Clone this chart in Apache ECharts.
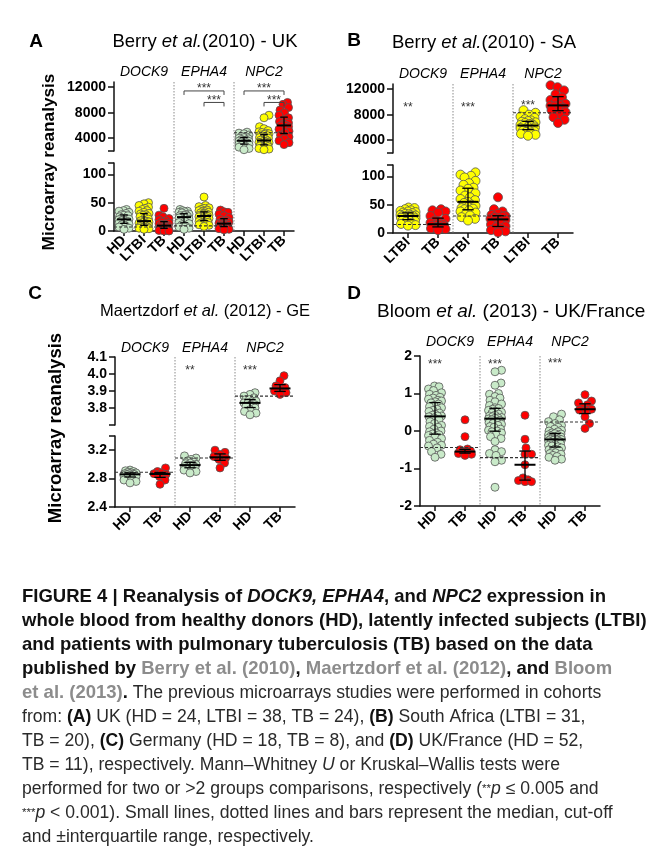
<!DOCTYPE html>
<html><head><meta charset="utf-8">
<script src="https://cdn.jsdelivr.net/npm/echarts@6/dist/echarts.min.js"></script>
<style>html,body{margin:0;padding:0;background:#fff}#c{width:653px;height:862px}</style>
</head><body><div id="c"></div>
<script>
// ---------------- DATA ----------------
const GENES = ['DOCK9', 'EPHA4', 'NPC2'];
const catsA = ['HD', 'LTBI', 'TB', 'HD', 'LTBI', 'TB', 'HD', 'LTBI', 'TB'];
const catsB = ['LTBI', 'TB', 'LTBI', 'TB', 'LTBI', 'TB'];
const catsC = ['HD', 'TB', 'HD', 'TB', 'HD', 'TB'];
const catsD = ['HD', 'TB', 'HD', 'TB', 'HD', 'TB'];

// Panel A: Berry et al. (2010) - UK
const A_DOCK9_HD = [38, 36, 35, 33, 31, 29, 28, 27, 25, 23, 22, 21, 20, 19, 18, 17, 15, 14, 12, 11, 9, 7, 5, 3];
const A_DOCK9_LTBI = [50, 48, 45, 42, 40, 38, 36, 35, 33, 31, 30, 29, 28, 26, 25, 23, 21, 19, 18, 17, 17, 16, 15, 14, 13, 12, 11, 10, 10, 9, 8, 7, 7, 6, 5, 5, 4, 3];
const A_DOCK9_TB = [40, 28, 25, 22, 20, 18, 16, 14, 13, 12, 11, 10, 9, 8, 8, 7, 6, 5, 4, 3, 2, 1, 0, 0];
const A_EPHA4_HD = [38, 36, 35, 34, 33, 32, 30, 29, 28, 27, 26, 25, 24, 23, 21, 19, 17, 15, 13, 11, 9, 7, 5, 3];
const A_EPHA4_LTBI = [60, 45, 43, 41, 40, 38, 37, 36, 35, 34, 33, 32, 31, 30, 29, 28, 28, 27, 27, 26, 26, 25, 24, 23, 22, 21, 20, 19, 18, 17, 16, 15, 14, 13, 12, 11, 10, 8];
const A_EPHA4_TB = [37, 34, 33, 30, 27, 24, 21, 19, 17, 16, 14, 13, 13, 12, 11, 10, 9, 8, 7, 6, 5, 4, 3, 2];
const A_NPC2_HD = [4950, 4800, 4700, 4500, 4300, 4200, 4100, 4000, 3900, 3800, 3700, 3650, 3550, 3500, 3400, 3300, 3200, 3100, 3000, 2900, 2750, 2600, 2400, 2200];
const A_NPC2_LTBI = [7600, 7200, 5800, 5500, 5200, 5000, 4900, 4800, 4700, 4600, 4500, 4400, 4300, 4200, 4100, 4000, 3900, 3800, 3700, 3600, 3500, 3450, 3400, 3350, 3300, 3200, 3100, 3000, 2950, 2900, 2800, 2700, 2600, 2500, 2450, 2400, 2300, 2200];
const A_NPC2_TB = [9600, 9300, 8800, 8400, 8000, 7600, 7200, 6900, 6600, 6400, 6200, 6050, 5950, 5800, 5600, 5400, 5100, 4800, 4500, 4200, 3900, 3600, 3300, 3000];
const CUT_A = [7, 9, 4850];

// Panel B: Berry et al. (2010) - SA
const B_DOCK9_LTBI = [45, 44, 42, 40, 39, 38, 37, 36, 35, 34, 33, 32, 31, 31, 30, 30, 30, 29, 28, 27, 26, 25, 24, 23, 22, 21, 20, 18, 16, 14, 13];
const B_DOCK9_TB = [42, 40, 38, 36, 30, 25, 22, 20, 18, 16, 15, 14, 13, 12, 11, 10, 9, 8, 7, 5];
const B_EPHA4_LTBI = [107, 103, 101, 98, 92, 88, 85, 80, 78, 75, 70, 66, 63, 60, 58, 55, 53, 50, 48, 46, 44, 43, 42, 40, 38, 36, 33, 31, 28, 25, 22];
const B_EPHA4_TB = [63, 42, 38, 34, 32, 30, 29, 28, 26, 25, 23, 21, 18, 15, 12, 10, 8, 5, 3, 1];
const B_NPC2_LTBI = [8700, 8300, 8000, 7700, 7500, 7300, 7100, 7000, 6900, 6800, 6700, 6600, 6500, 6400, 6350, 6300, 6250, 6200, 6100, 6000, 5900, 5800, 5700, 5600, 5500, 5400, 5300, 5200, 5000, 4850, 4700];
const B_NPC2_TB = [12900, 12600, 12300, 11800, 11200, 10700, 10300, 10000, 9700, 9500, 9400, 9300, 9100, 8900, 8700, 8400, 8000, 7600, 7200, 6700];
const CUT_B = [15, 30, 8300];

// Panel C: Maertzdorf et al. (2012) - GE
const C_DOCK9_HD = [2.92, 2.91, 2.90, 2.89, 2.88, 2.88, 2.87, 2.87, 2.86, 2.86, 2.85, 2.84, 2.83, 2.82, 2.80, 2.78, 2.76, 2.74];
const C_DOCK9_TB = [2.95, 2.90, 2.88, 2.87, 2.86, 2.83, 2.78, 2.72];
const C_EPHA4_HD = [3.12, 3.09, 3.07, 3.05, 3.03, 3.02, 3.01, 3.00, 2.99, 2.99, 2.98, 2.97, 2.96, 2.95, 2.93, 2.92, 2.90, 2.88];
const C_EPHA4_TB = [3.20, 3.17, 3.14, 3.11, 3.09, 3.07, 3.02, 2.95];
const C_NPC2_HD = [3.89, 3.88, 3.87, 3.86, 3.85, 3.85, 3.84, 3.84, 3.83, 3.83, 3.82, 3.82, 3.81, 3.80, 3.79, 3.78, 3.77, 3.76];
const C_NPC2_TB = [3.99, 3.96, 3.93, 3.92, 3.91, 3.90, 3.89, 3.88];
const CUT_C = [2.89, 3.09, 3.87];

// Panel D: Bloom et al. (2013) - UK/France
const D_DOCK9_HD = [1.2, 1.18, 1.12, 1.08, 1.02, 0.98, 0.95, 0.9, 0.88, 0.85, 0.82, 0.8, 0.78, 0.75, 0.72, 0.68, 0.65, 0.62, 0.58, 0.55, 0.52, 0.48, 0.45, 0.42, 0.4, 0.4, 0.38, 0.35, 0.3, 0.25, 0.2, 0.15, 0.12, 0.1, 0.05, 0.0, -0.02, -0.05, -0.08, -0.1, -0.12, -0.15, -0.2, -0.25, -0.3, -0.35, -0.38, -0.4, -0.45, -0.55, -0.62, -0.7];
const D_DOCK9_TB = [0.3, -0.15, -0.48, -0.5, -0.53, -0.55, -0.57, -0.58, -0.6, -0.62, -0.65];
const D_EPHA4_HD = [1.62, 1.58, 1.28, 1.22, 1.0, 0.98, 0.92, 0.88, 0.82, 0.78, 0.72, 0.68, 0.62, 0.6, 0.58, 0.55, 0.52, 0.5, 0.48, 0.45, 0.42, 0.4, 0.38, 0.36, 0.35, 0.34, 0.32, 0.3, 0.28, 0.25, 0.22, 0.2, 0.18, 0.15, 0.12, 0.1, 0.05, 0.02, 0.0, -0.02, -0.05, -0.1, -0.15, -0.2, -0.28, -0.5, -0.55, -0.6, -0.65, -0.78, -0.82, -1.5];
const D_EPHA4_TB = [0.42, -0.22, -0.45, -0.62, -0.62, -0.9, -1.25, -1.3, -1.32, -1.35, -1.35];
const D_NPC2_HD = [0.45, 0.38, 0.3, 0.25, 0.2, 0.15, 0.12, 0.1, 0.05, 0.02, 0.0, -0.02, -0.05, -0.07, -0.08, -0.1, -0.12, -0.13, -0.15, -0.16, -0.18, -0.19, -0.2, -0.21, -0.22, -0.22, -0.23, -0.24, -0.25, -0.26, -0.28, -0.3, -0.31, -0.32, -0.34, -0.36, -0.38, -0.4, -0.42, -0.45, -0.48, -0.5, -0.52, -0.55, -0.58, -0.6, -0.62, -0.65, -0.68, -0.7, -0.75, -0.78];
const D_NPC2_TB = [0.97, 0.8, 0.75, 0.7, 0.62, 0.58, 0.56, 0.55, 0.38, 0.2, 0.07];
const CUT_D = [-0.44, -0.71, 0.24];

// tick labels
const TICKS_AB_TOP = [4000, 8000, 12000];
const TICKS_AB_BOT = [0, 50, 100];
const TICKS_C_TOP = [3.8, 3.9, 4.0, 4.1];
const TICKS_C_BOT = [2.4, 2.8, 3.2];
const TICKS_D = [-2, -1, 0, 1, 2];

// significance: [fromCat, toCat, value, label]
const SIG_A = [[3, 5, 11400, '***'], [4, 5, 9600, '***'], [6, 8, 11400, '***'], [7, 8, 9600, '***']];
const SIG_B = [[0, 0, 9400, '**'], [2, 2, 9400, '***'], [4, 4, 9700, '***']];
const SIG_C = [[2, 2, 4.03, '**'], [4, 4, 4.03, '***']];
const SIG_D = [[0, 0, 1.82, '***'], [2, 2, 1.82, '***'], [4, 4, 1.84, '***']];

// ---------------- LAYOUT / HELPERS ----------------
const FONT = 'Liberation Sans, Arial, Helvetica, sans-serif';
const COLORS = { HD: '#c9eac9', LTBI: '#ffff00', TB: '#ff0000' };
const AXC = '#111';

function quant(s, p) { const pos = (s.length - 1) * p; const lo = Math.floor(pos), hi = Math.ceil(pos); return s[lo] + (s[hi] - s[lo]) * (pos - lo); }
function stats(v) { const s = v.slice().sort((a, b) => a - b); return { med: quant(s, 0.5), q1: quant(s, 0.25), q3: quant(s, 0.75) }; }
function swarm(vals, pxY, pxCat, diam, maxHW) {
  const idx = vals.map((v, i) => i).sort((a, b) => vals[a] - vals[b]);
  const placed = [], out = new Array(vals.length).fill(0), thr = diam * 0.8;
  for (const i of idx) {
    const y = vals[i] * pxY;
    let best = 0, bestD = -1, chosen = null;
    for (let k = 0; ; k++) {
      const x = (k % 2 === 1 ? 1 : -1) * Math.ceil(k / 2) * 0.5;
      if (Math.abs(x) > maxHW) break;
      let dmin = Infinity;
      for (const p of placed) { const dy = p[1] - y; if (Math.abs(dy) >= thr) continue; dmin = Math.min(dmin, Math.hypot(p[0] - x, dy)); }
      if (dmin >= thr) { chosen = x; break; }
      if (dmin > bestD + 0.3) { bestD = dmin; best = x; }
    }
    const x = chosen !== null ? chosen : best;
    placed.push([x, y]); out[i] = x / pxCat;
  }
  return out;
}

const panels = [
  { cats: catsA, groups: [[A_DOCK9_HD, A_DOCK9_LTBI, A_DOCK9_TB], [A_EPHA4_HD, A_EPHA4_LTBI, A_EPHA4_TB], [A_NPC2_HD, A_NPC2_LTBI, A_NPC2_TB]],
    cut: CUT_A, sig: SIG_A, left: 114, width: 180, size: 8, maxHW: 5, geneMargin: 3, fmt: v => String(v),
    segs: [{ top: 82, height: 69, min: 2000, max: 12800, ticks: TICKS_AB_TOP, caps: [2000] },
           { top: 163, height: 68, min: 0, max: 120, ticks: TICKS_AB_BOT, caps: [120] }] },
  { cats: catsB, groups: [[B_DOCK9_LTBI, B_DOCK9_TB], [B_EPHA4_LTBI, B_EPHA4_TB], [B_NPC2_LTBI, B_NPC2_TB]],
    cut: CUT_B, sig: SIG_B, left: 393, width: 180, size: 9, maxHW: 7.5, geneMargin: 3, fmt: v => String(v),
    segs: [{ top: 84, height: 69, min: 2000, max: 12800, ticks: TICKS_AB_TOP, caps: [2000] },
           { top: 165, height: 68, min: 0, max: 120, ticks: TICKS_AB_BOT, caps: [120] }] },
  { cats: catsC, groups: [[C_DOCK9_HD, C_DOCK9_TB], [C_EPHA4_HD, C_EPHA4_TB], [C_NPC2_HD, C_NPC2_TB]],
    cut: CUT_C, sig: SIG_C, left: 115, width: 180, size: 8, maxHW: 6, geneMargin: 2, fmt: v => v.toFixed(1),
    segs: [{ top: 357, height: 68, min: 3.7, max: 4.1, ticks: TICKS_C_TOP, caps: [3.7] },
           { top: 436, height: 71, min: 2.4, max: 3.4, ticks: TICKS_C_BOT, caps: [3.4] }] },
  { cats: catsD, groups: [[D_DOCK9_HD, D_DOCK9_TB], [D_EPHA4_HD, D_EPHA4_TB], [D_NPC2_HD, D_NPC2_TB]],
    cut: CUT_D, sig: SIG_D, left: 420, width: 180, size: 8, maxHW: 6.5, geneMargin: 7, fmt: v => String(v),
    segs: [{ top: 356, height: 150, min: -2, max: 2, ticks: TICKS_D, caps: [] }] }
];

const grids = [], xAxes = [], yAxes = [], series = [];
const lineW = 1.5;

panels.forEach(P => {
  const n = P.cats.length, nPer = n / 3, catIdx = P.cats.map((c, i) => i);
  const segs = P.segs.map((S, si) => {
    const bottom = si === P.segs.length - 1;
    const gi = grids.length;
    grids.push({ left: P.left, top: S.top, width: P.width, height: S.height, containLabel: false, outerBoundsMode: 'none' });
    const xi = xAxes.length;
    xAxes.push({ type: 'value', gridIndex: gi, min: -0.5, max: n - 0.5, position: 'bottom',
      axisLine: { show: bottom, onZero: false, lineStyle: { color: AXC, width: lineW } },
      axisTick: { show: bottom, customValues: catIdx, length: 5, lineStyle: { color: AXC, width: lineW } },
      axisLabel: { show: bottom, customValues: catIdx, formatter: v => P.cats[Math.round(v)], rotate: 45, margin: 7,
        color: '#000', fontWeight: 'bold', fontSize: 14, fontFamily: FONT },
      splitLine: { show: false } });
    const yi = yAxes.length;
    yAxes.push({ type: 'value', gridIndex: gi, min: S.min, max: S.max,
      axisLine: { show: true, onZero: false, lineStyle: { color: AXC, width: lineW } },
      axisTick: { show: true, customValues: S.ticks.concat(S.caps), length: 6, lineStyle: { color: AXC, width: lineW } },
      axisLabel: { customValues: S.ticks, formatter: P.fmt, margin: 8, color: '#000', fontWeight: 'bold', fontSize: 14, fontFamily: FONT },
      splitLine: { show: false } });
    return { gi, xi, yi, S, statData: [], cutData: [] };
  });
  const top = segs[0], bot = segs[segs.length - 1];
  // gene labels axis (top)
  const geneCenters = [0, 1, 2].map(g => g * nPer + (nPer - 1) / 2);
  xAxes.push({ type: 'value', gridIndex: top.gi, position: 'top', min: -0.5, max: n - 0.5,
    axisLine: { show: false, onZero: false }, axisTick: { show: false }, splitLine: { show: false },
    axisLabel: { customValues: geneCenters, formatter: v => GENES[Math.round((v - (nPer - 1) / 2) / nPer)],
      fontStyle: 'italic', fontSize: 14, color: '#000', margin: P.geneMargin, fontFamily: FONT } });

  // separators
  series.push({ type: 'custom', xAxisIndex: bot.xi, yAxisIndex: bot.yi, clip: false, z: 1, silent: true,
    data: [[nPer - 0.5, bot.S.min], [2 * nPer - 0.5, bot.S.min]],
    renderItem: (params, api) => {
      const p = api.coord([api.value(0), api.value(1)]);
      return { type: 'line', shape: { x1: p[0], y1: top.S.top, x2: p[0], y2: p[1] },
        style: { stroke: '#8a8a8a', lineWidth: 1, lineDash: [1.5, 1.5] } };
    } });

  // dots
  P.groups.forEach((row, g) => row.forEach((vals, k) => {
    const ci = g * nPer + k;
    const st = stats(vals);
    const seg = segs.find(o => st.med >= o.S.min && st.med <= o.S.max);
    const S = seg.S;
    const jit = swarm(vals, S.height / (S.max - S.min), P.width / n, P.size, P.maxHW);
    series.push({ type: 'scatter', xAxisIndex: seg.xi, yAxisIndex: seg.yi, symbolSize: P.size, z: 3, silent: true,
      itemStyle: { color: COLORS[P.cats[ci]], borderColor: '#555', borderWidth: 0.8, opacity: 1 },
      data: vals.map((v, i) => [ci + jit[i], v]) });
    seg.statData.push([ci, st.med, st.q1, st.q3]);
  }));
  P.cut.forEach((c, g) => {
    const seg = segs.find(o => c >= o.S.min && c <= o.S.max);
    seg.cutData.push([g * nPer - 0.5, (g + 1) * nPer - 0.5, c]);
  });

  segs.forEach(seg => {
    series.push({ type: 'custom', xAxisIndex: seg.xi, yAxisIndex: seg.yi, z: 5, silent: true, clip: false,
      encode: { x: 0, y: 2 }, data: seg.cutData,
      renderItem: (params, api) => {
        const a = api.coord([api.value(0), api.value(2)]), b = api.coord([api.value(1), api.value(2)]);
        return { type: 'line', shape: { x1: a[0], y1: a[1], x2: b[0], y2: b[1] },
          style: { stroke: '#333', lineWidth: 1.1, lineDash: [3, 2] } };
      } });
    series.push({ type: 'custom', xAxisIndex: seg.xi, yAxisIndex: seg.yi, z: 6, silent: true, clip: false,
      encode: { x: 0, y: 1 }, data: seg.statData,
      renderItem: (params, api) => {
        const x = api.value(0);
        const pm = api.coord([x, api.value(1)]), p1 = api.coord([x, api.value(2)]), p3 = api.coord([x, api.value(3)]);
        const w = api.size([1, 0])[0], hm = w * 0.35, hc = w * 0.19;
        const st = { stroke: '#000', lineWidth: 1.3 };
        return { type: 'group', children: [
          { type: 'line', shape: { x1: pm[0], y1: p1[1], x2: pm[0], y2: p3[1] }, style: st },
          { type: 'line', shape: { x1: pm[0] - hc, y1: p1[1], x2: pm[0] + hc, y2: p1[1] }, style: st },
          { type: 'line', shape: { x1: pm[0] - hc, y1: p3[1], x2: pm[0] + hc, y2: p3[1] }, style: st },
          { type: 'line', shape: { x1: pm[0] - hm, y1: pm[1], x2: pm[0] + hm, y2: pm[1] }, style: { stroke: '#000', lineWidth: 2 } }
        ] };
      } });
  });

  // significance
  series.push({ type: 'custom', xAxisIndex: top.xi, yAxisIndex: top.yi, z: 7, silent: true, clip: false,
    encode: { x: 0, y: 2 }, data: P.sig.map(s => [s[0], s[1], s[2]]),
    renderItem: (params, api) => {
      const lab = P.sig[params.dataIndex][3];
      const a = api.coord([api.value(0), api.value(2)]), b = api.coord([api.value(1), api.value(2)]);
      const kids = [];
      if (api.value(0) !== api.value(1)) {
        kids.push({ type: 'polyline', shape: { points: [[a[0], a[1] + 4], [a[0], a[1]], [b[0], b[1]], [b[0], b[1] + 4]] },
          style: { stroke: '#444', lineWidth: 1, fill: 'none' } });
        kids.push({ type: 'text', x: (a[0] + b[0]) / 2, y: a[1] - 2,
          style: { text: lab, fontSize: 12, fontFamily: FONT, fill: '#333', align: 'center', verticalAlign: 'middle' } });
      } else {
        kids.push({ type: 'text', x: a[0], y: a[1] + 2,
          style: { text: lab, fontSize: 12, fontFamily: FONT, fill: '#333', align: 'center', verticalAlign: 'middle' } });
      }
      return { type: 'group', children: kids };
    } });
});

// ---------------- TEXT ----------------
function txt(x, y, text, opts) {
  return Object.assign({ type: 'text', x: x, y: y, silent: true,
    style: Object.assign({ text: text, fontFamily: FONT, fill: '#000', align: 'center', verticalAlign: 'middle',
      textAlign: 'center', textVerticalAlign: 'middle' }, opts.style || {}) }, opts.el || {});
}
const richTitle = size => ({
  n: { fontSize: size, fontFamily: FONT, fill: '#000' },
  i: { fontSize: size, fontFamily: FONT, fill: '#000', fontStyle: 'italic' }
});
const RS = 17.6;
const capRich = {
  b: { fontSize: 18.5, fontWeight: 'bold', fontFamily: FONT, fill: '#111' },
  bi: { fontSize: 18.5, fontWeight: 'bold', fontStyle: 'italic', fontFamily: FONT, fill: '#111' },
  g: { fontSize: 18.5, fontWeight: 'bold', fontFamily: FONT, fill: '#8c8c8c' },
  r: { fontSize: RS, fontFamily: FONT, fill: '#2a2a2a' },
  rb: { fontSize: RS, fontWeight: 'bold', fontFamily: FONT, fill: '#111' },
  ri: { fontSize: RS, fontStyle: 'italic', fontFamily: FONT, fill: '#2a2a2a' },
  s: { fontSize: 11.5, fontFamily: FONT, fill: '#2a2a2a' }
};
const captionLines = [
  '{b|FIGURE 4 | Reanalysis of }{bi|DOCK9, EPHA4}{b|, and }{bi|NPC2}{b| expression in}',
  '{b|whole blood from healthy donors (HD), latently infected subjects (LTBI)}',
  '{b|and patients with pulmonary tuberculosis (TB) based on the data}',
  '{b|published by }{g|Berry et al. (2010)}{b|, }{g|Maertzdorf et al. (2012)}{b|, and }{g|Bloom}',
  '{g|et al. (2013)}{b|.}{r| The previous microarrays studies were performed in cohorts}',
  '{r|from: }{rb|(A)}{r| UK (HD = 24, LTBI = 38, TB = 24), }{rb|(B)}{r| South Africa (LTBI = 31,}',
  '{r|TB = 20), }{rb|(C)}{r| Germany (HD = 18, TB = 8), and }{rb|(D)}{r| UK/France (HD = 52,}',
  '{r|TB = 11), respectively. Mann\u2013Whitney }{ri|U}{r| or Kruskal\u2013Wallis tests were}',
  '{r|performed for two or >2 groups comparisons, respectively (}{s|**}{ri|p}{r| \u2264 0.005 and}',
  '{s|***}{ri|p}{r| < 0.001). Small lines, dotted lines and bars represent the median, cut-off}',
  '{r|and \u00b1interquartile range, respectively.}'
];

const graphics = [
  txt(36, 42, 'A', { style: { fontSize: 19, fontWeight: 'bold' } }),
  txt(354, 41, 'B', { style: { fontSize: 19, fontWeight: 'bold' } }),
  txt(35, 294, 'C', { style: { fontSize: 19, fontWeight: 'bold' } }),
  txt(354, 294, 'D', { style: { fontSize: 19, fontWeight: 'bold' } }),
  txt(205, 42, '{n|Berry }{i|et al.}{n|(2010) - UK}', { style: { rich: richTitle(18.5) } }),
  txt(484, 43, '{n|Berry }{i|et al.}{n|(2010) - SA}', { style: { rich: richTitle(18.5) } }),
  txt(205, 311, '{n|Maertzdorf }{i|et al.}{n| (2012) - GE}', { style: { rich: richTitle(16.5) } }),
  txt(377, 312, '{n|Bloom }{i|et al.}{n| (2013) - UK/France}', { style: { rich: richTitle(19), align: 'left', textAlign: 'left' } }),
  txt(49, 162, 'Microarray reanalysis', { style: { fontSize: 17.2, fontWeight: 'bold' }, el: { rotation: Math.PI / 2 } }),
  txt(56, 428, 'Microarray reanalysis', { style: { fontSize: 18.5, fontWeight: 'bold' }, el: { rotation: Math.PI / 2 } })
];
const capY0 = 597, capDY = 24;
captionLines.forEach((t, i) => {
  graphics.push(txt(22, capY0 + i * capDY, t, { style: { rich: capRich, align: 'left', textAlign: 'left' } }));
});

const chart = echarts.init(document.getElementById('c'), null, { renderer: 'canvas', width: 653, height: 862 });
chart.setOption({
  animation: false,
  backgroundColor: '#fff',
  textStyle: { fontFamily: FONT },
  grid: grids, xAxis: xAxes, yAxis: yAxes, series: series,
  graphic: { elements: graphics }
});
</script></body></html>
